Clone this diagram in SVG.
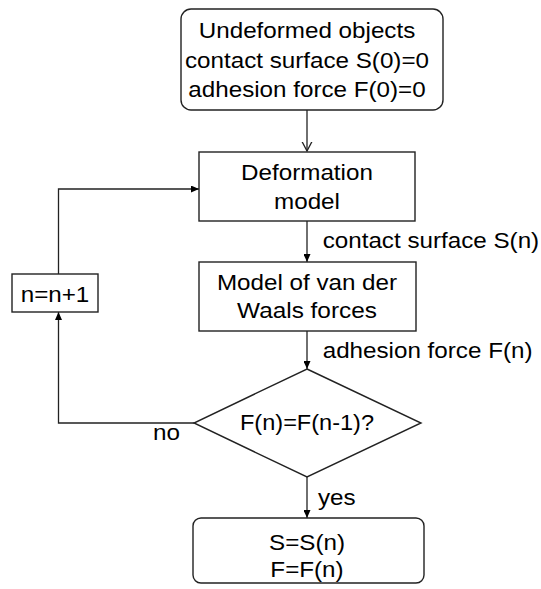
<svg xmlns="http://www.w3.org/2000/svg" width="541" height="589" viewBox="0 0 541 589">
<defs>
<style>
.box{fill:#fff;stroke:#222;stroke-width:1.4}
.ln{fill:none;stroke:#222;stroke-width:1.3}
text{font-family:"Liberation Sans",Arial,sans-serif;font-size:22px;fill:#000}
.c{text-anchor:middle}
</style>
<marker id="af" viewBox="0 0 8 7" refX="8" refY="3.5" markerWidth="8" markerHeight="7" markerUnits="userSpaceOnUse" orient="auto">
<path d="M0,0 L8,3.5 L0,7 z" fill="#000"/>
</marker>
<marker id="ao" viewBox="0 0 10 12" refX="9.5" refY="6" markerWidth="10" markerHeight="12" markerUnits="userSpaceOnUse" orient="auto">
<path d="M0,1 L9.5,6 L0,11" fill="none" stroke="#222" stroke-width="1.3"/>
</marker>
</defs>
<rect width="541" height="589" fill="#fff"/>
<g id="connectors">
<line class="ln" x1="307" y1="110" x2="307" y2="151" marker-end="url(#ao)"/>
<line class="ln" x1="307" y1="221" x2="307" y2="262" marker-end="url(#af)"/>
<line class="ln" x1="307" y1="331" x2="307" y2="369" marker-end="url(#af)"/>
<line class="ln" x1="307" y1="477" x2="307" y2="518" marker-end="url(#af)"/>
<polyline class="ln" points="194,423 58.5,423 58.5,312" marker-end="url(#af)"/>
<polyline class="ln" points="58.5,274 58.5,189 199,189" marker-end="url(#af)"/>
<text x="322.7" y="248.3" textLength="216.5" lengthAdjust="spacingAndGlyphs">contact surface S(n)</text>
<text x="322.7" y="358.3" textLength="209.8" lengthAdjust="spacingAndGlyphs">adhesion force F(n)</text>
<text x="153" y="440" textLength="27" lengthAdjust="spacingAndGlyphs">no</text>
<text x="318" y="505" textLength="37.7" lengthAdjust="spacingAndGlyphs">yes</text>
</g>
<g id="start">
<rect class="box" x="181" y="9" width="262" height="101" rx="10"/>
<text class="c" x="307" y="38.3" textLength="216.5" lengthAdjust="spacingAndGlyphs">Undeformed objects</text>
<text class="c" x="307" y="68.3" textLength="244" lengthAdjust="spacingAndGlyphs">contact surface S(0)=0</text>
<text class="c" x="307" y="97.3" textLength="237.4" lengthAdjust="spacingAndGlyphs">adhesion force F(0)=0</text>
</g>
<g id="deformation">
<rect class="box" x="199" y="152" width="216" height="69"/>
<text class="c" x="307" y="180" textLength="131.8" lengthAdjust="spacingAndGlyphs">Deformation</text>
<text class="c" x="307" y="209" textLength="65.9" lengthAdjust="spacingAndGlyphs">model</text>
</g>
<g id="vdw">
<rect class="box" x="199" y="262" width="217" height="69"/>
<text class="c" x="307" y="290" textLength="180.2" lengthAdjust="spacingAndGlyphs">Model of van der</text>
<text class="c" x="307" y="318.3" textLength="139.9" lengthAdjust="spacingAndGlyphs">Waals forces</text>
</g>
<g id="increment">
<rect class="box" x="12" y="274" width="86" height="38"/>
<text class="c" x="55" y="301.7" textLength="68.6" lengthAdjust="spacingAndGlyphs">n=n+1</text>
</g>
<g id="decision">
<polygon class="box" points="307,369 421,423 307,477 194,423"/>
<text class="c" x="307" y="430" textLength="134" lengthAdjust="spacingAndGlyphs">F(n)=F(n-1)?</text>
</g>
<g id="end">
<rect class="box" x="193" y="518" width="231" height="65" rx="8"/>
<text class="c" x="307" y="550" textLength="76" lengthAdjust="spacingAndGlyphs">S=S(n)</text>
<text class="c" x="307" y="577" textLength="73.3" lengthAdjust="spacingAndGlyphs">F=F(n)</text>
</g>
</svg>
